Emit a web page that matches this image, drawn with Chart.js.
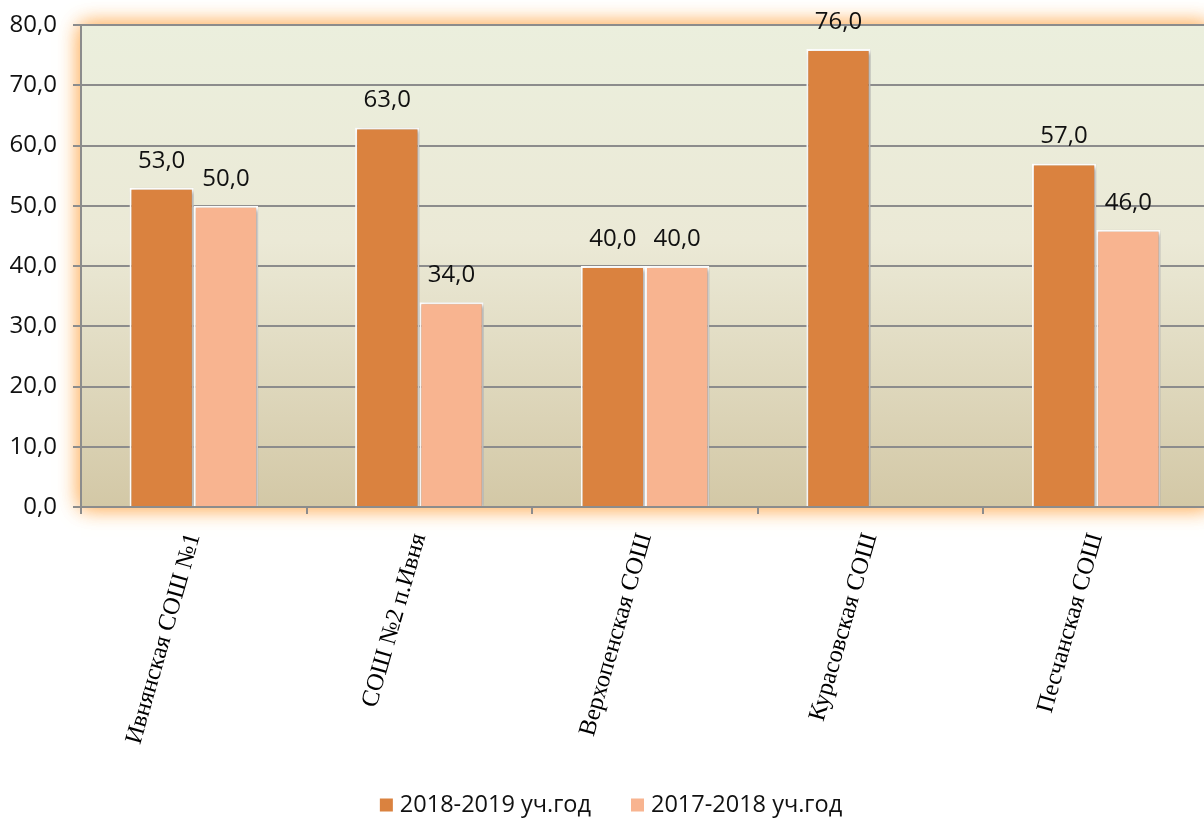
<!DOCTYPE html>
<html>
<head>
<meta charset="utf-8">
<script src="https://cdn.jsdelivr.net/npm/chart.js@4"></script>
<style>
  html, body { margin: 0; padding: 0; background: #fff; overflow: hidden; }
  #wrap { width: 1210px; height: 819px; }
</style>
</head>
<body>
<div id="wrap"><canvas id="schoolChart" width="1210" height="819"></canvas></div>
<script>
const categories = ['Ивнянская СОШ №1', 'СОШ №2 п.Ивня', 'Верхопенская СОШ', 'Курасовская СОШ', 'Песчанская СОШ'];
const seriesNames = ['2018-2019 уч.год', '2017-2018 уч.год'];
const values2019 = [53, 63, 40, 76, 57];
const values2018 = [50, 34, 40, null, 46];
const yMin = 0, yMax = 80, yStep = 10;

const fmt = v => v.toFixed(1).replace('.', ',');
const labelFont = '"Open Sans", sans-serif';

// plot background with orange glow and gradient, bar shadows, value labels
const plotBg = {
  id: 'plotBg',
  beforeDraw(chart) {
    const { ctx, chartArea: a } = chart;
    ctx.save();
    ctx.shadowColor = 'rgba(255, 185, 110, 1)';
    ctx.shadowBlur = 20;
    ctx.fillStyle = '#ece9d6';
    ctx.fillRect(a.left, a.top, a.right - a.left, a.bottom - a.top);
    ctx.fillRect(a.left, a.top, a.right - a.left, a.bottom - a.top);
    ctx.restore();
    const g = ctx.createLinearGradient(0, a.top, 0, a.bottom);
    g.addColorStop(0, '#ebefdd');
    g.addColorStop(0.45, '#ebe9d6');
    g.addColorStop(1, '#d3c8a6');
    ctx.fillStyle = g;
    ctx.fillRect(a.left, a.top, a.right - a.left, a.bottom - a.top);
  },
  beforeDatasetsDraw(chart) {
    const ctx = chart.ctx;
    ctx.save();
    ctx.shadowColor = 'rgba(0,0,0,0.35)';
    ctx.shadowBlur = 4;
    ctx.shadowOffsetX = 2;
    ctx.shadowOffsetY = 2;
  },
  afterDatasetsDraw(chart) {
    const ctx = chart.ctx;
    ctx.restore();
    ctx.save();
    ctx.font = '24px ' + labelFont;
    ctx.fillStyle = '#111';
    ctx.textAlign = 'center';
    ctx.textBaseline = 'middle';
    chart.data.datasets.forEach((ds, i) => {
      chart.getDatasetMeta(i).data.forEach((bar, j) => {
        const v = ds.data[j];
        if (v === null || v === undefined) return;
        ctx.fillText(fmt(v), bar.x, bar.y - 27);
      });
    });
    ctx.restore();
  }
};

// legend drawn at the bottom, square markers
const bottomLegend = {
  id: 'bottomLegend',
  afterDraw(chart) {
    const ctx = chart.ctx;
    const box = 13, gap = 7, itemGap = 40, y = 805;
    ctx.save();
    ctx.font = '23.5px ' + labelFont;
    const items = chart.data.datasets.map(ds => ({ text: ds.label, color: ds.backgroundColor, w: ctx.measureText(ds.label).width }));
    const total = items.reduce((s, it) => s + box + gap + it.w, 0) + itemGap * (items.length - 1);
    let x = 611 - total / 2;
    ctx.textBaseline = 'middle';
    ctx.textAlign = 'left';
    items.forEach(it => {
      ctx.fillStyle = it.color;
      ctx.fillRect(x, y - box / 2, box, box);
      x += box + gap;
      ctx.fillStyle = '#111';
      ctx.fillText(it.text, x, y);
      x += it.w + itemGap;
    });
    ctx.restore();
  }
};

new Chart(document.getElementById('schoolChart'), {
  type: 'bar',
  data: {
    labels: categories,
    datasets: [
      { label: seriesNames[0], data: values2019, backgroundColor: '#da823f', borderColor: '#ffffff', borderWidth: 2 },
      { label: seriesNames[1], data: values2018, backgroundColor: '#f8b490', borderColor: '#ffffff', borderWidth: 2 }
    ]
  },
  options: {
    responsive: false,
    animation: false,
    layout: { padding: { top: 25, right: 1, left: 0, bottom: 0 } },
    datasets: { bar: { categoryPercentage: 0.57, barPercentage: 1.0 } },
    scales: {
      x: {
        offset: true,
        grid: { display: true, drawOnChartArea: false, offset: true, color: '#8c8c8c', lineWidth: 2, tickLength: 7 },
        border: { color: '#8c8c8c', width: 2 },
        ticks: {
          color: '#000',
          font: { family: '"Liberation Serif", "Times New Roman", serif', size: 24.5 },
          minRotation: 74, maxRotation: 74, padding: 16
        },
        afterFit(s) { s.height = 312; }
      },
      y: {
        min: yMin, max: yMax,
        grid: { color: '#8c8c8c', lineWidth: 2, tickLength: 8 },
        border: { color: '#8c8c8c', width: 2 },
        ticks: {
          stepSize: yStep, color: '#111', padding: 16,
          font: { family: labelFont, size: 24 },
          callback: v => fmt(v)
        },
        afterFit(s) { s.width = 81; s.paddingTop = 0; s.paddingBottom = 0; }
      }
    },
    plugins: {
      legend: { display: false },
      tooltip: { enabled: false }
    }
  },
  plugins: [plotBg, bottomLegend]
});
</script>
</body>
</html>
